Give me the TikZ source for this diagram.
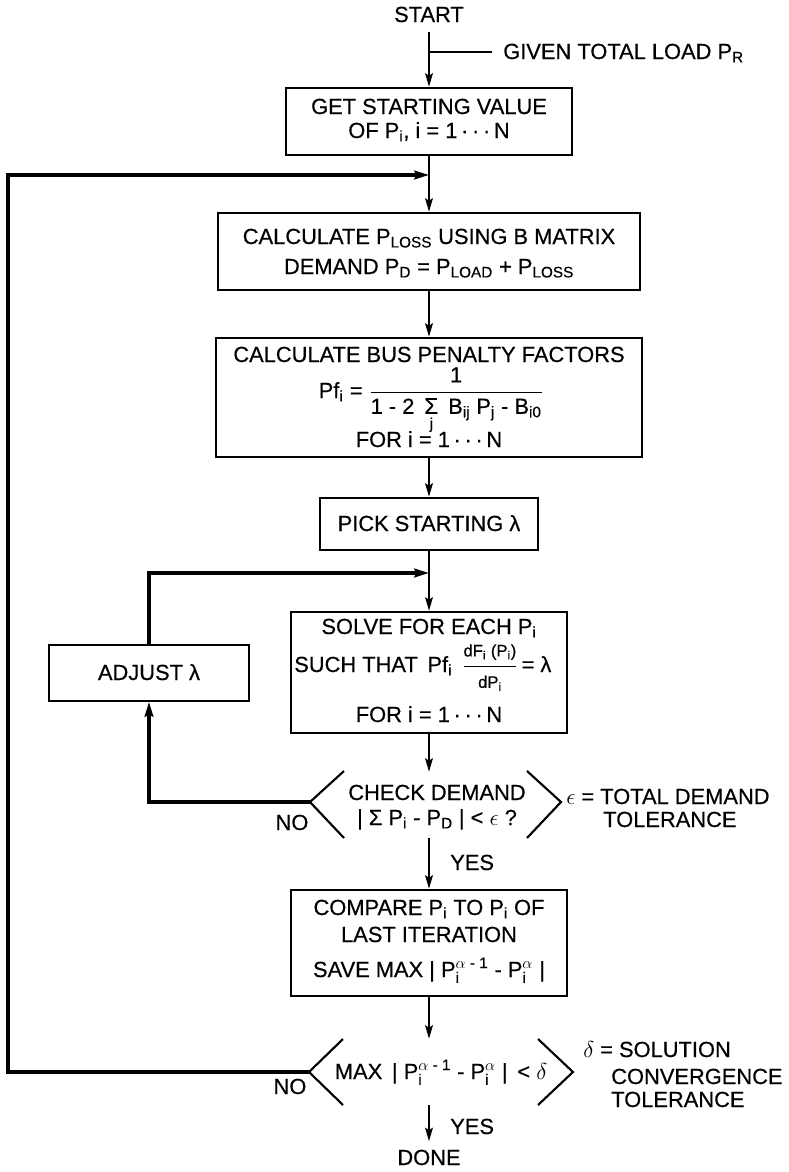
\documentclass[tikz,border=0pt]{standalone}
\usepackage{amsmath}
\usepackage{fontspec}
\setmainfont{Liberation Sans}[FakeBold=0.4]
\usetikzlibrary{arrows.meta,fit}
\newcommand{\tx}[1]{\text{#1}}
\newcommand{\dts}{\,·\,·\,·\,}
\newcommand{\fsz}{\fontsize{12.5}{14}\selectfont}
\newcommand{\bigS}{\mbox{\fontsize{17}{19}\selectfont Σ}}
\begin{document}
\begin{tikzpicture}[x=0.75pt,y=-0.75pt,
  box/.style={draw, line width=1.5pt, inner sep=0pt},
  txt/.style={inner sep=0pt, font=\fontsize{16.4}{19}\selectfont},
  arr/.style={line width=2.2pt, -{Stealth[length=10pt,width=5.5pt,inset=1.5pt]}},
  fb/.style={line width=3pt, line join=miter},
  fbarr/.style={fb, -{Stealth[length=11pt,width=6.5pt,inset=1.5pt]}},
  brk/.style={line width=1.6pt, line join=miter}]
\fill[white] (0,0) rectangle (789,1172);
\useasboundingbox (0,0) rectangle (789,1172);

% boxes
\node[box, fit={(286,88) (572,155)}] (b1) {};
\node[box, fit={(218,213) (640,290)}] (b2) {};
\node[box, fit={(216,338) (642,457)}] (b3) {};
\node[box, fit={(320,498) (538,550)}] (b4) {};
\node[box, fit={(291,612) (567,733)}] (b5) {};
\node[box, fit={(49,645) (249,701)}] (adj) {};
\node[box, fit={(291,890) (567,996)}] (b6) {};

% coordinates
\coordinate (g) at (429,52);
\coordinate (j1) at (429,175);
\coordinate (j2) at (429,573);
\coordinate (fbx) at (8,0);
\coordinate (h1w) at (310,802);
\coordinate (h1e) at (561,802);
\coordinate (h1n) at (429,772);
\coordinate (h1s) at (429,838);
\coordinate (h2w) at (309,1072);
\coordinate (h2e) at (573,1072);
\coordinate (h2n) at (429,1039);
\coordinate (h2s) at (429,1105);

% decision brackets
\draw[brk] (344,771) -- (h1w) -- (344,838);
\draw[brk] (527,771) -- (h1e) -- (527,838);
\draw[brk] (343,1039) -- (h2w) -- (343,1105);
\draw[brk] (538,1039) -- (h2e) -- (538,1105);

% texts
\node[txt, anchor=base, inner ysep=7pt] (start) at (429,22) {START};
\node[txt, anchor=base west] (given) at (503,59) {GIVEN TOTAL LOAD P$_{\tx{R}}$};

\node[txt, anchor=base] (t11) at (429,114) {GET STARTING VALUE};
\node[txt, anchor=base] (t12) at (429,138) {OF P$_{\tx{i}}$, i = 1\dts N};

\node[txt, anchor=base] (t21) at (429,244) {CALCULATE P$_{\tx{LOSS}}$ USING B MATRIX};
\node[txt, anchor=base] (t22) at (429,274) {DEMAND P$_{\tx{D}}$ = P$_{\tx{LOAD}}$ + P$_{\tx{LOSS}}$};

\node[txt, anchor=base] (t31) at (429,362) {CALCULATE BUS PENALTY FACTORS};
\node[txt, anchor=base] (t32) at (431,398) {$\displaystyle \tx{Pf}_{\tx{i}} \mathrel{\tx{=}} \frac{\tx{1}}{\tx{1 - 2 }\,\underset{\tx{j}}{\bigS}\,\tx{ B}_{\tx{ij}}\tx{ P}_{\tx{j}}\tx{ - B}_{\tx{i0}}}$};
\node[txt, anchor=base] (t33) at (429,447) {FOR i = 1\dts N};

\node[txt, anchor=base] (t41) at (429,531) {PICK STARTING λ};

\node[txt, anchor=base] (t51) at (429,634) {SOLVE FOR EACH P$_{\tx{i}}$};
\node[txt, anchor=base west] (t52) at (294,672) {SUCH THAT \,Pf$_{\tx{i}}$ \,$\dfrac{\tx{\fsz dF$_{\tx{i}}$ (P$_{\tx{i}}$)}}{\tx{\fsz dP$_{\tx{i}}$}}$\,= λ};
\node[txt, anchor=base] (t53) at (429,722) {FOR i = 1\dts N};

\node[txt, anchor=base] (ta) at (149,680) {ADJUST λ};

\node[txt, anchor=base] (c1) at (437,800) {CHECK DEMAND};
\node[txt, anchor=base] (c2) at (437,825) {| Σ P$_{\tx{i}}$ - P$_{\tx{D}}$ | < $\epsilon$ ?};
\node[txt, anchor=base west] (e1) at (566,804) {$\epsilon$ = TOTAL DEMAND};
\node[txt, anchor=base west] (e2) at (603,827) {TOLERANCE};
\node[txt, anchor=base] (no1) at (292,830) {NO};
\node[txt, anchor=base west] (yes1) at (450,870) {YES};

\node[txt, anchor=base] (t61) at (429,915) {COMPARE P$_{\tx{i}}$ TO P$_{\tx{i}}$ OF};
\node[txt, anchor=base] (t62) at (429,942) {LAST ITERATION};
\node[txt, anchor=base] (t63) at (429,977) {SAVE MAX | $\tx{P}_{\tx{i}}^{\alpha\tx{ - 1}}$ - $\tx{P}_{\tx{i}}^{\alpha}$ |};

\node[txt, anchor=base] (m1) at (441,1079) {MAX \,| $\tx{P}_{\tx{i}}^{\alpha\tx{ - 1}}$ - $\tx{P}_{\tx{i}}^{\alpha}$ | \,< $\delta$};
\node[txt, anchor=base] (no2) at (290,1094) {NO};
\node[txt, anchor=base west] (d1) at (583,1057) {$\delta$ = SOLUTION};
\node[txt, anchor=base west] (d2) at (611,1084) {CONVERGENCE};
\node[txt, anchor=base west] (d3) at (611,1107) {TOLERANCE};
\node[txt, anchor=base west] (yes2) at (450,1134) {YES};
\node[txt, anchor=base, inner ysep=6pt] (done) at (429,1165) {DONE};

% connectors
\draw[arr] (start) -- (b1);
\draw[line width=2.2pt, shorten >=8pt] (g) -- (g -| given.west);
\draw[arr] (b1) -- (b2);
\draw[arr] (b2) -- (b3);
\draw[arr] (b3) -- (b4);
\draw[arr] (b4) -- (b5);
\draw[arr] (b5) -- (h1n);
\draw[arr] (h1s) -- (b6);
\draw[arr] (b6) -- (h2n);
\draw[arr] (h2s) -- (done);
\draw[fbarr] (h1w) -| (adj);
\draw[fbarr] (adj) |- (j2);
\draw[fbarr] (h2w) -- (h2w -| fbx) -- (fbx |- j1) -- (j1);
\end{tikzpicture}
\end{document}
